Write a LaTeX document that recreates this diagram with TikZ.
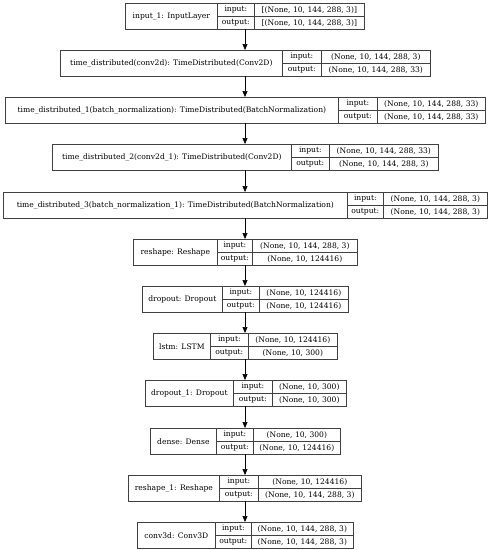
\documentclass[tikz,border=0pt]{standalone}
\usepackage{fontspec}
\setmainfont{DejaVu Serif}
\usetikzlibrary{arrows.meta}

% one keras layer: name, top, x0, x1, x2, x3, title, input, output
\newcommand{\kerasrow}[9]{%
  \node[cell, minimum width=#4-#3, minimum height=26] (#1) at (#3,-#2) {#7};
  \node[cell, minimum width=#5-#4] (#1-li) at (#4,-#2) {input:};
  \node[cell, minimum width=#5-#4] (#1-lo) at (#4,-#2-13) {output:};
  \node[cell, minimum width=#6-#5] (#1-vi) at (#5,-#2) {#8};
  \node[cell, minimum width=#6-#5] (#1-vo) at (#5,-#2-13) {#9};
  \coordinate (#1-t) at (245,-#2);
  \coordinate (#1-b) at (245,-#2-26);
}

\begin{document}
\begin{tikzpicture}[x=1pt,y=1pt]
\tikzstyle{every node}+=[inner sep=0pt]
\tikzstyle{cell}=[draw=black!75, line width=0.7pt, anchor=north west, minimum height=13,
  font=\fontsize{7.6}{8}\selectfont]
\tikzstyle{flow}=[draw=black, line width=0.7pt, -{Triangle[length=6pt,width=5pt]}]
\useasboundingbox (0,0) rectangle (491,-550);
\kerasrow{inp}{3}{125}{217}{254}{364}{input\_1: InputLayer}{[(None, 10, 144, 288, 3)]}{[(None, 10, 144, 288, 3)]}
\kerasrow{tdconv}{50}{60}{282}{321}{430}{time\_distributed(conv2d): TimeDistributed(Conv2D)}{(None, 10, 144, 288, 3)}{(None, 10, 144, 288, 33)}
\kerasrow{tdbn}{97}{5}{338}{377}{485}{time\_distributed\_1(batch\_normalization): TimeDistributed(BatchNormalization)}{(None, 10, 144, 288, 33)}{(None, 10, 144, 288, 33)}
\kerasrow{tdconvb}{144}{52}{291}{329}{438}{time\_distributed\_2(conv2d\_1): TimeDistributed(Conv2D)}{(None, 10, 144, 288, 33)}{(None, 10, 144, 288, 3)}
\kerasrow{tdbnb}{192}{3}{347}{383}{487}{time\_distributed\_3(batch\_normalization\_1): TimeDistributed(BatchNormalization)}{(None, 10, 144, 288, 3)}{(None, 10, 144, 288, 3)}
\kerasrow{resh}{239}{133}{217}{252}{357}{reshape: Reshape}{(None, 10, 144, 288, 3)}{(None, 10, 124416)}
\kerasrow{drop}{286}{142}{222}{259}{348}{dropout: Dropout}{(None, 10, 124416)}{(None, 10, 124416)}
\kerasrow{lstm}{333}{153}{210}{248}{337}{lstm: LSTM}{(None, 10, 124416)}{(None, 10, 300)}
\kerasrow{dropb}{380}{145}{233}{272}{346}{dropout\_1: Dropout}{(None, 10, 300)}{(None, 10, 300)}
\kerasrow{dense}{428}{150}{216}{253}{340}{dense: Dense}{(None, 10, 300)}{(None, 10, 124416)}
\kerasrow{reshb}{475}{128}{219}{258}{361}{reshape\_1: Reshape}{(None, 10, 124416)}{(None, 10, 144, 288, 3)}
\kerasrow{conv}{522}{137}{215}{251}{353}{conv3d: Conv3D}{(None, 10, 144, 288, 3)}{(None, 10, 144, 288, 3)}
% connections
\foreach \a/\b in {inp/tdconv, tdconv/tdbn, tdbn/tdconvb, tdconvb/tdbnb, tdbnb/resh,
  resh/drop, drop/lstm, lstm/dropb, dropb/dense, dense/reshb, reshb/conv}
  \draw[flow] (\a-b) -- (\b-t);
\end{tikzpicture}
\end{document}
